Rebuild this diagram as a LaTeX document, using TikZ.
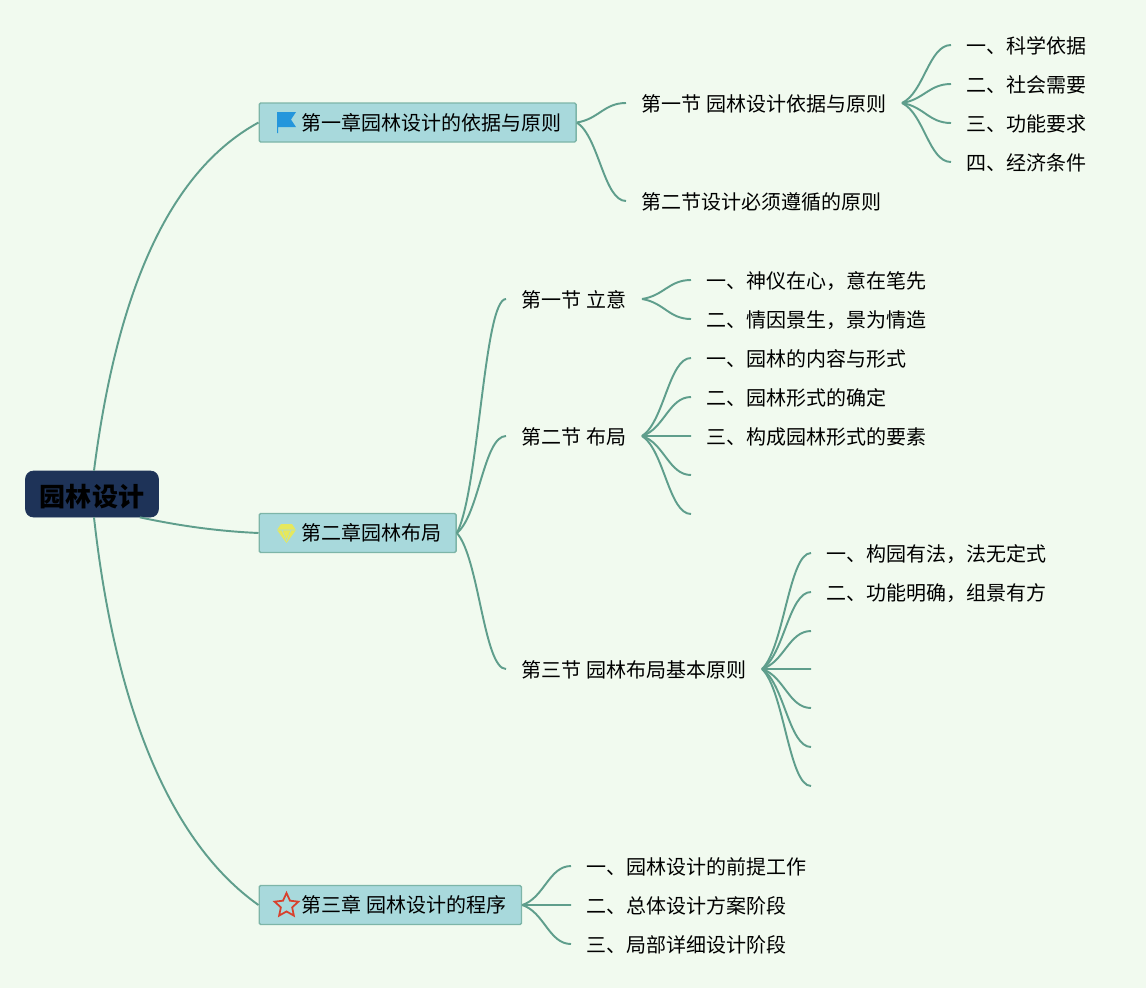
\documentclass[tikz,border=0pt]{standalone}
\usepackage{fontspec}
\setmainfont[WordSpace=1.2]{Noto Sans CJK SC}
\usetikzlibrary{calc,shapes.geometric}
\definecolor{bgpaper}{HTML}{F1FAEF}
\definecolor{boxfill}{HTML}{A8D9DC}
\definecolor{boxline}{HTML}{7DB5A8}
\definecolor{branchline}{HTML}{5F9E8C}
\definecolor{rootfill}{HTML}{1E3358}
\definecolor{flagblue}{HTML}{2496DC}
\definecolor{gemyellow}{HTML}{E6E85C}
\definecolor{starred}{HTML}{D8402C}
\tikzset{
  rootbox/.style={draw=rootfill,fill=rootfill,rounded corners=0.16cm,minimum width=2.66cm,minimum height=0.92cm,inner sep=0pt,text height=0.5cm,text depth=0.02cm,font=\fontsize{14.8pt}{18pt}\bfseries},
  chapbox/.style={draw=boxline,fill=boxfill,line width=0.8pt,rounded corners=0.03cm,anchor=west,minimum height=0.78cm,inner xsep=0.3cm,inner ysep=0pt,font=\fontsize{11.38pt}{14pt}\selectfont},
  topic/.style={anchor=west,inner xsep=0.3cm,inner ysep=0pt,text height=0.36cm,text depth=0.04cm,font=\fontsize{11.38pt}{14pt}\selectfont},
  link/.style={draw=branchline,line width=1.1pt},
  branch/.style={link,to path={let \p1=(\tikztostart),\p2=(\tikztotarget) in .. controls (\x1*0.55+\x2*0.45,\y1*0.82+\y2*0.18) and (\x1*0.45+\x2*0.55,\y2) .. (\tikztotarget)}}
}
\begin{document}
\begin{tikzpicture}[x=0.02cm,y=-0.02cm]
\useasboundingbox (0,0) rectangle (1146,988);
\fill[bgpaper] (0,0) rectangle (1146,988);
% centre and chapters
\node[rootbox] (root) at (92,494) {园林设计};
\node[chapbox] (ch1) at (258.5,122.5) {\hspace*{0.54cm}第一章园林设计的依据与原则};
\node[chapbox] (ch2) at (258.5,533) {\hspace*{0.54cm}第二章园林布局};
\node[chapbox] (ch3) at (258.5,905) {\hspace*{0.54cm}第三章 园林设计的程序};
% chapter one
\node[topic] (s11) at (626,103) {第一节 园林设计依据与原则};
\node[topic] (s12) at (626,201) {第二节设计必须遵循的原则};
\node[topic] (a1) at (951,45) {一、科学依据};
\node[topic] (a2) at (951,84) {二、社会需要};
\node[topic] (a3) at (951,123) {三、功能要求};
\node[topic] (a4) at (951,162) {四、经济条件};
% chapter two
\node[topic] (s21) at (506,299) {第一节 立意};
\node[topic] (s22) at (506,436) {第二节 布局};
\node[topic] (s23) at (506,669) {第三节 园林布局基本原则};
\node[topic] (b1) at (691,280) {一、神仪在心，意在笔先};
\node[topic] (b2) at (691,319) {二、情因景生，景为情造};
\node[topic] (c1) at (691,358) {一、园林的内容与形式};
\node[topic] (c2) at (691,397) {二、园林形式的确定};
\node[topic] (c3) at (691,436) {三、构成园林形式的要素};
\coordinate (c4) at (691,475);
\coordinate (c5) at (691,514);
\node[topic] (d1) at (811,553) {一、构园有法，法无定式};
\node[topic] (d2) at (811,592) {二、功能明确，组景有方};
\coordinate (d3) at (811,631);
\coordinate (d4) at (811,669);
\coordinate (d5) at (811,708);
\coordinate (d6) at (811,747);
\coordinate (d7) at (811,786);
% chapter three
\node[topic] (e1) at (571,866) {一、园林设计的前提工作};
\node[topic] (e2) at (571,905) {二、总体设计方案阶段};
\node[topic] (e3) at (571,944) {三、局部详细设计阶段};
% icons
\fill[flagblue] (277,112) -- (296,112) -- (291,119.5) -- (296,127) -- (278,127) -- (278,133) -- (277,133) -- cycle;
\fill[gemyellow] (281,524) -- (292,524) -- (296,530) -- (286.5,543) -- (277,530) -- cycle;
\draw[boxfill,line width=0.3pt] (277,530) -- (296,530) (282,530) -- (286.5,541) -- (291,530);
\node[star,star points=5,star point ratio=2.1,draw=starred,line width=1pt,inner sep=0pt,minimum size=0.5cm] (ic3) at (286.5,905.5) {};
% connectors
\draw[link] ([xshift=0.04cm]root.north) .. controls +(24,-187) and +(-86,47) .. (ch1.west);
\draw[link] ([xshift=-0.38cm]root.south east) .. controls +(38,8) and +(-44,-2) .. (ch2.west);
\draw[link] ([xshift=0.04cm]root.south) .. controls +(21,189) and +(-89,-63) .. (ch3.west);
\draw[branch] (ch1.east) to (s11.west);
\draw[branch] (ch1.east) to (s12.west);
\draw[branch] (s11.east) to (a1.west);
\draw[branch] (s11.east) to (a2.west);
\draw[branch] (s11.east) to (a3.west);
\draw[branch] (s11.east) to (a4.west);
\draw[branch] (ch2.east) to (s21.west);
\draw[branch] (ch2.east) to (s22.west);
\draw[branch] (ch2.east) to (s23.west);
\draw[branch] (s21.east) to (b1.west);
\draw[branch] (s21.east) to (b2.west);
\draw[branch] (s22.east) to (c1.west);
\draw[branch] (s22.east) to (c2.west);
\draw[branch] (s22.east) to (c3.west);
\draw[branch] (s22.east) to (c4);
\draw[branch] (s22.east) to (c5);
\draw[branch] (s23.east) to (d1.west);
\draw[branch] (s23.east) to (d2.west);
\draw[branch] (s23.east) to (d3);
\draw[branch] (s23.east) to (d4);
\draw[branch] (s23.east) to (d5);
\draw[branch] (s23.east) to (d6);
\draw[branch] (s23.east) to (d7);
\draw[branch] (ch3.east) to (e1.west);
\draw[branch] (ch3.east) to (e2.west);
\draw[branch] (ch3.east) to (e3.west);
\end{tikzpicture}
\end{document}
